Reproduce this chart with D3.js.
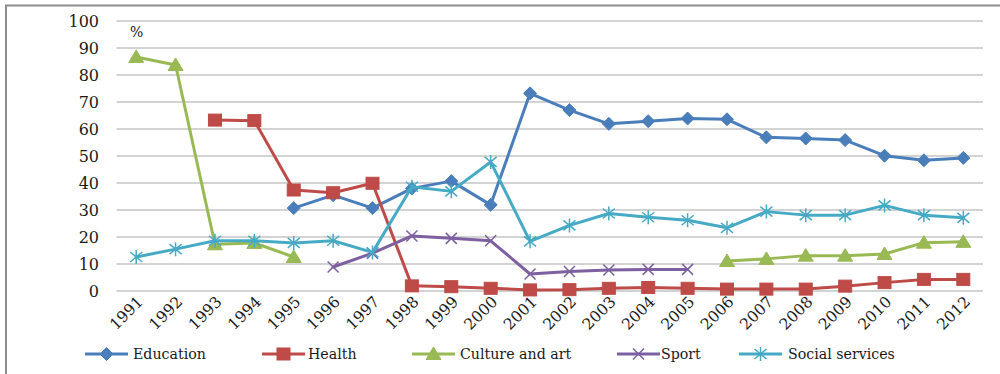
<!DOCTYPE html>
<html>
<head>
<meta charset="utf-8">
<script src="https://cdn.jsdelivr.net/npm/d3@7"></script>
<style>
  html, body { margin: 0; padding: 0; background: #fff; }
  svg { display: block; }
  text { font-family: "DejaVu Serif", "Liberation Serif", serif; fill: #1a1a1a; }
</style>
</head>
<body>
<svg id="chart" width="1000" height="374"></svg>
<script>
// Share of spending by sector, 1991–2012 (%)
const years = ["1991","1992","1993","1994","1995","1996","1997","1998","1999","2000","2001",
               "2002","2003","2004","2005","2006","2007","2008","2009","2010","2011","2012"];

const education = [null,null,null,null,30.7,35.5,30.7,38,40.7,31.9,73.2,67,61.9,62.9,63.9,63.6,56.9,56.5,55.9,50.1,48.4,49.3];
const health    = [null,null,63.3,63.1,37.4,36.4,39.9,1.9,1.6,1.0,0.4,0.5,1.0,1.3,1.0,0.7,0.7,0.7,1.8,3.1,4.3,4.3];
const culture   = [86.7,83.7,17.3,17.8,12.6,null,null,null,null,null,null,null,null,null,null,11.1,11.9,13.1,13.1,13.7,17.9,18.2];
const sport     = [null,null,null,null,null,8.9,14,20.4,19.5,18.6,6.3,7.2,7.8,8.0,8.0,null,null,null,null,null,null,null];
const social    = [12.6,15.5,18.6,18.6,17.8,18.6,14.3,38.6,36.9,47.8,18.4,24.3,28.7,27.3,26.2,23.4,29.4,28.1,28.1,31.7,28.1,27.1];

const yTicks = [0,10,20,30,40,50,60,70,80,90,100];

const series = [
  { name: "Education",       values: education, color: "#4a7ebb", marker: "diamond" },
  { name: "Health",          values: health,    color: "#be4b48", marker: "square" },
  { name: "Culture and art", values: culture,   color: "#98b954", marker: "triangle" },
  { name: "Sport",           values: sport,     color: "#7d60a0", marker: "cross" },
  { name: "Social services", values: social,    color: "#46aac5", marker: "star" }
];

const svg = d3.select("#chart");

// outer frame (top and left edges)
svg.append("path")
  .attr("d", "M6,374 L6,5.5 L1000,5.5")
  .attr("fill", "none").attr("stroke", "#8c8c8c").attr("stroke-width", 2);

const x = d3.scaleBand().domain(years).range([116.5, 983]);
const y = d3.scaleLinear().domain([0, 100]).range([291, 21]);
const cx = d => x(d) + x.bandwidth() / 2;

// horizontal gridlines
svg.append("g").selectAll("line").data(yTicks).join("line")
  .attr("x1", x.range()[0]).attr("x2", x.range()[1])
  .attr("y1", d => y(d)).attr("y2", d => y(d))
  .attr("stroke", "#c4c4c4").attr("stroke-width", 1.5);

// y axis labels
const yAxis = d3.axisLeft(y).tickValues(yTicks).tickSize(0).tickPadding(0);
const gy = svg.append("g").attr("transform", "translate(99,0)").call(yAxis);
gy.select(".domain").remove();
gy.selectAll("text")
  .attr("font-family", "DejaVu Serif").attr("font-size", 16).attr("fill", "#1a1a1a")
  .attr("dy", "0.36em");

svg.append("text").attr("x", 130).attr("y", 37).attr("font-size", 14).text("%");

// x axis labels, rotated
const xAxis = d3.axisBottom(x).tickSize(0).tickPadding(0);
const gx = svg.append("g").call(xAxis);
gx.select(".domain").remove();
gx.selectAll(".tick").attr("transform", d => `translate(${cx(d) + 4},299)`);
gx.selectAll("text")
  .attr("font-family", "DejaVu Serif").attr("font-size", 15.5).attr("fill", "#1a1a1a")
  .attr("text-anchor", "end").attr("y", 0).attr("dy", "0.35em")
  .attr("transform", "rotate(-45)");

// marker shapes
function drawMarker(g, type, color, px, py) {
  if (type === "diamond") {
    g.append("path").attr("d", `M${px},${py-6.5} L${px+6.5},${py} L${px},${py+6.5} L${px-6.5},${py} Z`)
      .attr("fill", color).attr("stroke", color).attr("stroke-width", 1);
  } else if (type === "square") {
    g.append("rect").attr("x", px-6.5).attr("y", py-6).attr("width", 13).attr("height", 12)
      .attr("fill", color).attr("stroke", color).attr("stroke-width", 1);
  } else if (type === "triangle") {
    g.append("path").attr("d", `M${px},${py-7} L${px+7.5},${py+5.5} L${px-7.5},${py+5.5} Z`)
      .attr("fill", color).attr("stroke", color).attr("stroke-width", 1);
  } else if (type === "cross") {
    g.append("path").attr("d", `M${px-5.5},${py-5.5} L${px+5.5},${py+5.5} M${px-5.5},${py+5.5} L${px+5.5},${py-5.5}`)
      .attr("stroke", color).attr("stroke-width", 1.5).attr("fill", "none");
  } else if (type === "star") {
    g.append("path").attr("d", `M${px-6},${py-5} L${px+6},${py+5} M${px-6},${py+5} L${px+6},${py-5} M${px},${py-7} L${px},${py+7}`)
      .attr("stroke", color).attr("stroke-width", 1.5).attr("fill", "none");
  }
}

// series lines and markers
const line = d3.line()
  .defined(d => d.v !== null)
  .x(d => cx(d.year))
  .y(d => y(d.v));

series.forEach(s => {
  const pts = years.map((yr, i) => ({ year: yr, v: s.values[i] }));
  const g = svg.append("g");
  g.append("path").datum(pts).attr("d", line)
    .attr("fill", "none").attr("stroke", s.color).attr("stroke-width", 3)
    .attr("stroke-linejoin", "round").attr("stroke-linecap", "round");
  pts.filter(p => p.v !== null).forEach(p => drawMarker(g, s.marker, s.color, cx(p.year), y(p.v)));
});

// legend
const legendItems = [
  { lx: 85,  tx: 133 },
  { lx: 262, tx: 308 },
  { lx: 412, tx: 460 },
  { lx: 617, tx: 661 },
  { lx: 739, tx: 788 }
];
const ly = 354;
const lg = svg.append("g");
series.forEach((s, i) => {
  const L = legendItems[i];
  lg.append("line").attr("x1", L.lx).attr("x2", L.lx + 43).attr("y1", ly).attr("y2", ly)
    .attr("stroke", s.color).attr("stroke-width", 3);
  drawMarker(lg, s.marker, s.color, L.lx + 21.5, ly);
  lg.append("text").attr("x", L.tx).attr("y", ly).attr("dy", "0.35em")
    .attr("font-size", 14.2).text(s.name);
});
</script>
</body>
</html>
